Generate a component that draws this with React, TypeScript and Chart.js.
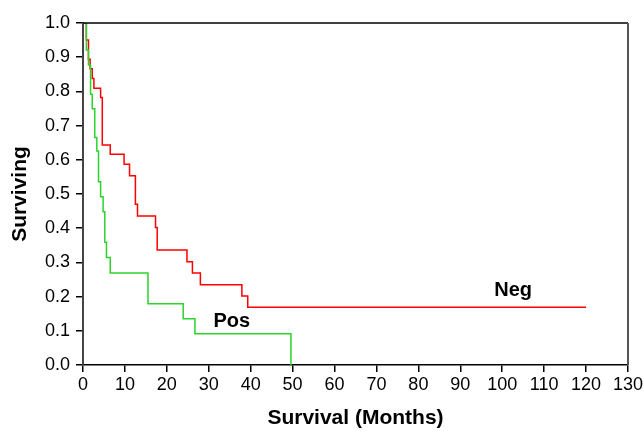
import React, { useEffect, useRef } from "react";
import { Chart, registerables } from "chart.js";

Chart.register(...registerables);

// Kaplan-Meier step curves (time in months, survival fraction)
const negTimes = [0, 0.8, 1.3, 1.7, 2.2, 2.6, 4.2, 4.6, 6.5, 9.8, 11.1, 12.5, 13.0, 17.3, 17.7, 24.8, 26.1, 28.0, 37.9, 39.3, 120];
const negSurv = [1.0, 0.95, 0.894, 0.866, 0.838, 0.809, 0.782, 0.643, 0.616, 0.587, 0.553, 0.47, 0.436, 0.402, 0.336, 0.302, 0.269, 0.235, 0.202, 0.169, 0.169];

const posTimes = [0, 0.8, 1.3, 1.8, 2.2, 2.8, 3.3, 3.7, 4.2, 4.8, 5.2, 5.6, 6.5, 15.5, 23.9, 26.7, 49.6];
const posSurv = [1.0, 0.921, 0.877, 0.792, 0.749, 0.665, 0.626, 0.536, 0.492, 0.448, 0.359, 0.314, 0.269, 0.179, 0.135, 0.0915, 0.0];

const seriesNames = ["Neg", "Pos"];
const labelX = [102.6, 35.5];
const labelY = [0.219, 0.126];

const xTicksMax = 130;
const yTicksMax = 1.0;

const FONT = "'Liberation Sans', Arial, sans-serif";

export default function App() {
  const ref = useRef<HTMLCanvasElement | null>(null);

  useEffect(() => {
    if (!ref.current) return;
    const neg = negTimes.map((t, i) => ({ x: t, y: negSurv[i] }));
    const pos = posTimes.map((t, i) => ({ x: t, y: posSurv[i] }));

    const framePlugin = {
      id: "frame",
      afterDraw(chart: any) {
        const { ctx, chartArea } = chart;
        ctx.save();
        ctx.strokeStyle = "#000";
        ctx.lineWidth = 1.5;
        ctx.beginPath();
        ctx.moveTo(chartArea.left, chartArea.top);
        ctx.lineTo(chartArea.right, chartArea.top);
        ctx.stroke();
        ctx.strokeStyle = "#555";
        ctx.lineWidth = 2;
        ctx.beginPath();
        ctx.moveTo(chartArea.right, chartArea.top);
        ctx.lineTo(chartArea.right, chartArea.bottom);
        ctx.stroke();
        // series labels
        ctx.fillStyle = "#000";
        ctx.font = `bold 20px ${FONT}`;
        ctx.textAlign = "center";
        ctx.textBaseline = "middle";
        seriesNames.forEach((name, i) => {
          const px = chart.scales.x.getPixelForValue(labelX[i]);
          const py = chart.scales.y.getPixelForValue(labelY[i]);
          ctx.fillText(name, px, py);
        });
        ctx.restore();
      },
    };

    const chart = new Chart(ref.current, {
      type: "line",
      data: {
        datasets: [
          {
            label: "Neg",
            data: neg,
            borderColor: "#ff0000",
            borderWidth: 1.5,
            pointRadius: 0,
            stepped: "before",
            fill: false,
            order: 2,
          },
          {
            label: "Pos",
            data: pos,
            borderColor: "#2bd42b",
            borderWidth: 1.5,
            pointRadius: 0,
            stepped: "before",
            fill: false,
            order: 1,
          },
        ],
      },
      options: {
        animation: false,
        responsive: true,
        maintainAspectRatio: false,
        layout: { padding: { top: 23, right: 16, left: 0, bottom: 0 } },
        plugins: { legend: { display: false }, tooltip: { enabled: false } },
        scales: {
          x: {
            type: "linear",
            min: 0,
            max: xTicksMax,
            ticks: {
              stepSize: 10,
              color: "#000",
              font: { family: FONT, size: 18 },
              padding: 2,
              maxRotation: 0,
              autoSkip: false,
            },
            grid: { drawOnChartArea: false, drawTicks: true, tickLength: 7, color: "#000", lineWidth: 1.5 },
            border: { display: true, color: "#000", width: 1.5 },
            title: {
              display: true,
              text: "Survival (Months)",
              color: "#000",
              font: { family: FONT, size: 21, weight: "bold" },
              padding: { top: 0, bottom: 0 },
            },
            afterFit(scale: any) {
              scale.height = 66;
              scale.paddingLeft = 0;
              scale.paddingRight = 0;
            },
          },
          y: {
            type: "linear",
            min: 0,
            max: yTicksMax,
            ticks: {
              stepSize: 0.1,
              color: "#000",
              font: { family: FONT, size: 18 },
              padding: 6,
              callback: (v: any) => Number(v).toFixed(1),
            },
            grid: { drawOnChartArea: false, drawTicks: true, tickLength: 7, color: "#000", lineWidth: 1.5 },
            border: { display: true, color: "#444", width: 2 },
            title: {
              display: true,
              text: "Surviving",
              color: "#000",
              font: { family: FONT, size: 21, weight: "bold" },
              padding: { top: 8, bottom: 0 },
            },
            afterFit(scale: any) {
              scale.width = 83;
              scale.paddingTop = 0;
              scale.paddingBottom = 0;
            },
          },
        },
      },
      plugins: [framePlugin],
    });
    return () => chart.destroy();
  }, []);

  return (
    <div style={{ position: "fixed", left: 0, top: 0, width: 644, height: 431, background: "#fff" }}>
      <canvas ref={ref} />
    </div>
  );
}
